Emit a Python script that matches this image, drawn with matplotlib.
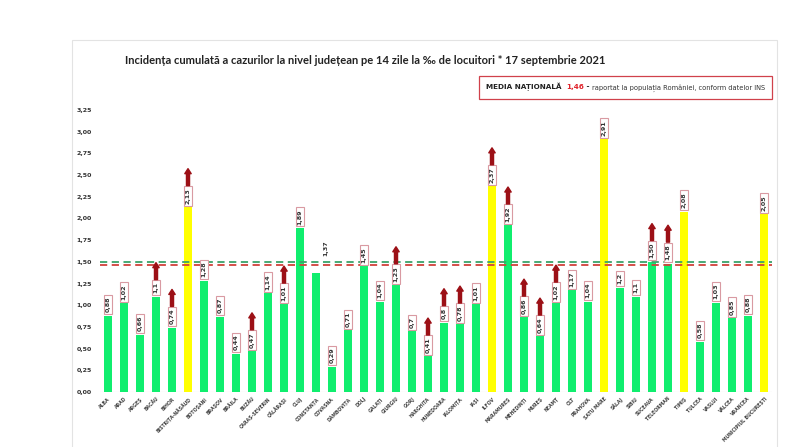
import matplotlib
matplotlib.use('Agg')
import matplotlib.pyplot as plt
from matplotlib.patches import Rectangle
from matplotlib.offsetbox import TextArea, HPacker, AnchoredOffsetbox

# counties and 14-day incidence per 1000 inhabitants
judete = ['ALBA', 'ARAD', 'ARGEȘ', 'BACĂU', 'BIHOR', 'BISTRIȚA-NĂSĂUD', 'BOTOȘANI',
          'BRAȘOV', 'BRĂILA', 'BUZĂU', 'CARAȘ-SEVERIN', 'CĂLĂRAȘI', 'CLUJ', 'CONSTANȚA',
          'COVASNA', 'DÂMBOVIȚA', 'DOLJ', 'GALAȚI', 'GIURGIU', 'GORJ', 'HARGHITA',
          'HUNEDOARA', 'IALOMIȚA', 'IAȘI', 'ILFOV', 'MARAMUREȘ', 'MEHEDINȚI', 'MUREȘ',
          'NEAMȚ', 'OLT', 'PRAHOVA', 'SATU MARE', 'SĂLAJ', 'SIBIU', 'SUCEAVA',
          'TELEORMAN', 'TIMIȘ', 'TULCEA', 'VASLUI', 'VÂLCEA', 'VRANCEA',
          'MUNICIPIUL BUCUREȘTI']
valori = [0.88, 1.02, 0.66, 1.1, 0.74, 2.13, 1.28, 0.87, 0.44, 0.47, 1.14, 1.01, 1.89, 1.37,
          0.29, 0.71, 1.45, 1.04, 1.23, 0.7, 0.41, 0.8, 0.78, 1.01, 2.37, 1.92, 0.86, 0.64,
          1.02, 1.17, 1.04, 2.91, 1.2, 1.1, 1.50, 1.48, 2.08, 0.58, 1.03, 0.85, 0.88, 2.05]
etichete = ['0,88', '1,02', '0,66', '1,1', '0,74', '2,13', '1,28', '0,87', '0,44', '0,47',
            '1,14', '1,01', '1,89', '1,37', '0,29', '0,71', '1,45', '1,04', '1,23', '0,7',
            '0,41', '0,8', '0,78', '1,01', '2,37', '1,92', '0,86', '0,64', '1,02', '1,17',
            '1,04', '2,91', '1,2', '1,1', '1,50', '1,48', '2,08', '0,58', '1,03', '0,85',
            '0,88', '2,05']
in_crestere = ['BACĂU', 'BIHOR', 'BISTRIȚA-NĂSĂUD', 'BUZĂU', 'CĂLĂRAȘI', 'GIURGIU',
               'HARGHITA', 'HUNEDOARA', 'IALOMIȚA', 'ILFOV', 'MARAMUREȘ', 'MEHEDINȚI',
               'MUREȘ', 'NEAMȚ', 'SUCEAVA', 'TELEORMAN']
fara_chenar = ['CONSTANȚA']
media_nationala = 1.46
prag = 1.50
y_ticks = [0, 0.25, 0.5, 0.75, 1.0, 1.25, 1.5, 1.75, 2.0, 2.25, 2.5, 2.75, 3.0, 3.25]

GREEN = '#10ee6e'
YELLOW = '#ffff00'
DARKRED = '#9c1016'

fig = plt.figure(figsize=(8, 4.47), dpi=100)
ax = fig.add_axes([0.125, 0.123, 0.84, 0.631])

# light page frame
fig.patches.append(Rectangle((72 / 800, -0.1), 705 / 800, 1.1 - 40 / 447,
                             transform=fig.transFigure, fill=False,
                             edgecolor='#e3e3e3', lw=0.8))

x = list(range(len(judete)))
colors = [YELLOW if v >= 2 else GREEN for v in valori]
ax.bar(x, valori, width=0.45, color=colors, zorder=2)

ax.axhline(prag, color='#3aa36a', ls=(0, (4, 2.5)), lw=1.3, zorder=3)
ax.axhline(media_nationala, color='#d0413c', ls=(0, (4, 2.5)), lw=1.3, zorder=3)
ax.axhline(0, color='#d9d9d9', lw=0.8, zorder=1)

ax.set_xlim(-0.5, len(judete) - 0.5)
ax.set_ylim(0, 3.25)
for s in ax.spines.values():
    s.set_visible(False)
ax.set_yticks(y_ticks)
ax.set_yticklabels([f'{t:.2f}'.replace('.', ',') for t in y_ticks],
                   fontsize=4.5, fontweight='bold', color='#333333')
ax.set_xticks(x)
ax.set_xticklabels(judete, rotation=45, ha='right', va='top', rotation_mode='anchor',
                   fontsize=3.3, fontweight='bold', color='#444444')
ax.tick_params(length=0, axis='y', pad=6)
ax.tick_params(length=0, axis='x', pad=3)

# value labels
texts = []
for i, (j, v, lab) in enumerate(zip(judete, valori, etichete)):
    if j in fara_chenar:
        t = ax.text(i + 0.6, v + 0.2, lab, rotation=90, ha='center', va='bottom',
                    fontsize=4.6, fontweight='bold', color='#333333', zorder=5)
    else:
        t = ax.text(i, v + 0.04, lab, rotation=90, ha='center', va='bottom',
                    fontsize=4.6, fontweight='bold', color='#333333', zorder=5,
                    bbox=dict(boxstyle='square,pad=0.3', facecolor='white',
                              edgecolor='#d99aa2', lw=0.8))
    texts.append(t)

# arrows above rising counties
fig.canvas.draw()
inv = ax.transData.inverted()
for i, (j, t) in enumerate(zip(judete, texts)):
    if j not in in_crestere:
        continue
    bb = t.get_bbox_patch().get_window_extent() if t.get_bbox_patch() else t.get_window_extent()
    top = inv.transform((0, bb.y1))[1]
    ax.annotate('', xy=(i, top + 0.2), xytext=(i, top + 0.005),
                arrowprops=dict(arrowstyle='simple,head_length=0.9,head_width=1.15,tail_width=0.55',
                                color=DARKRED, mutation_scale=4, shrinkA=0, shrinkB=0),
                zorder=6, annotation_clip=False)

fig.text(0.457, 1 - 60 / 447,
         'Incidența cumulată a cazurilor la nivel județean pe 14 zile la ‰ de locuitori * 17 septembrie 2021',
         ha='center', va='center', fontsize=8, fontweight='bold', family='Lato',
         color='#222222')

# national average box
parts = [TextArea('MEDIA NAȚIONALĂ  ', textprops=dict(fontsize=5.2, fontweight='bold', color='#222222')),
         TextArea('1,46', textprops=dict(fontsize=5.2, fontweight='bold', color='#e0242c')),
         TextArea(' - ', textprops=dict(fontsize=5.2, fontweight='bold', color='#222222')),
         TextArea('raportat la populația României, conform datelor INS',
                  textprops=dict(fontsize=4.8, color='#333333'))]
box = AnchoredOffsetbox(loc='upper right',
                        child=HPacker(children=parts, align='baseline', pad=0, sep=0),
                        bbox_to_anchor=(772 / 800, 1 - 76 / 447),
                        bbox_transform=fig.transFigure, frameon=True, pad=0.5, borderpad=0)
box.patch.set_edgecolor('#d0414b')
box.patch.set_linewidth(0.9)
fig.add_artist(box)

fig.savefig('out.png', dpi=100)
